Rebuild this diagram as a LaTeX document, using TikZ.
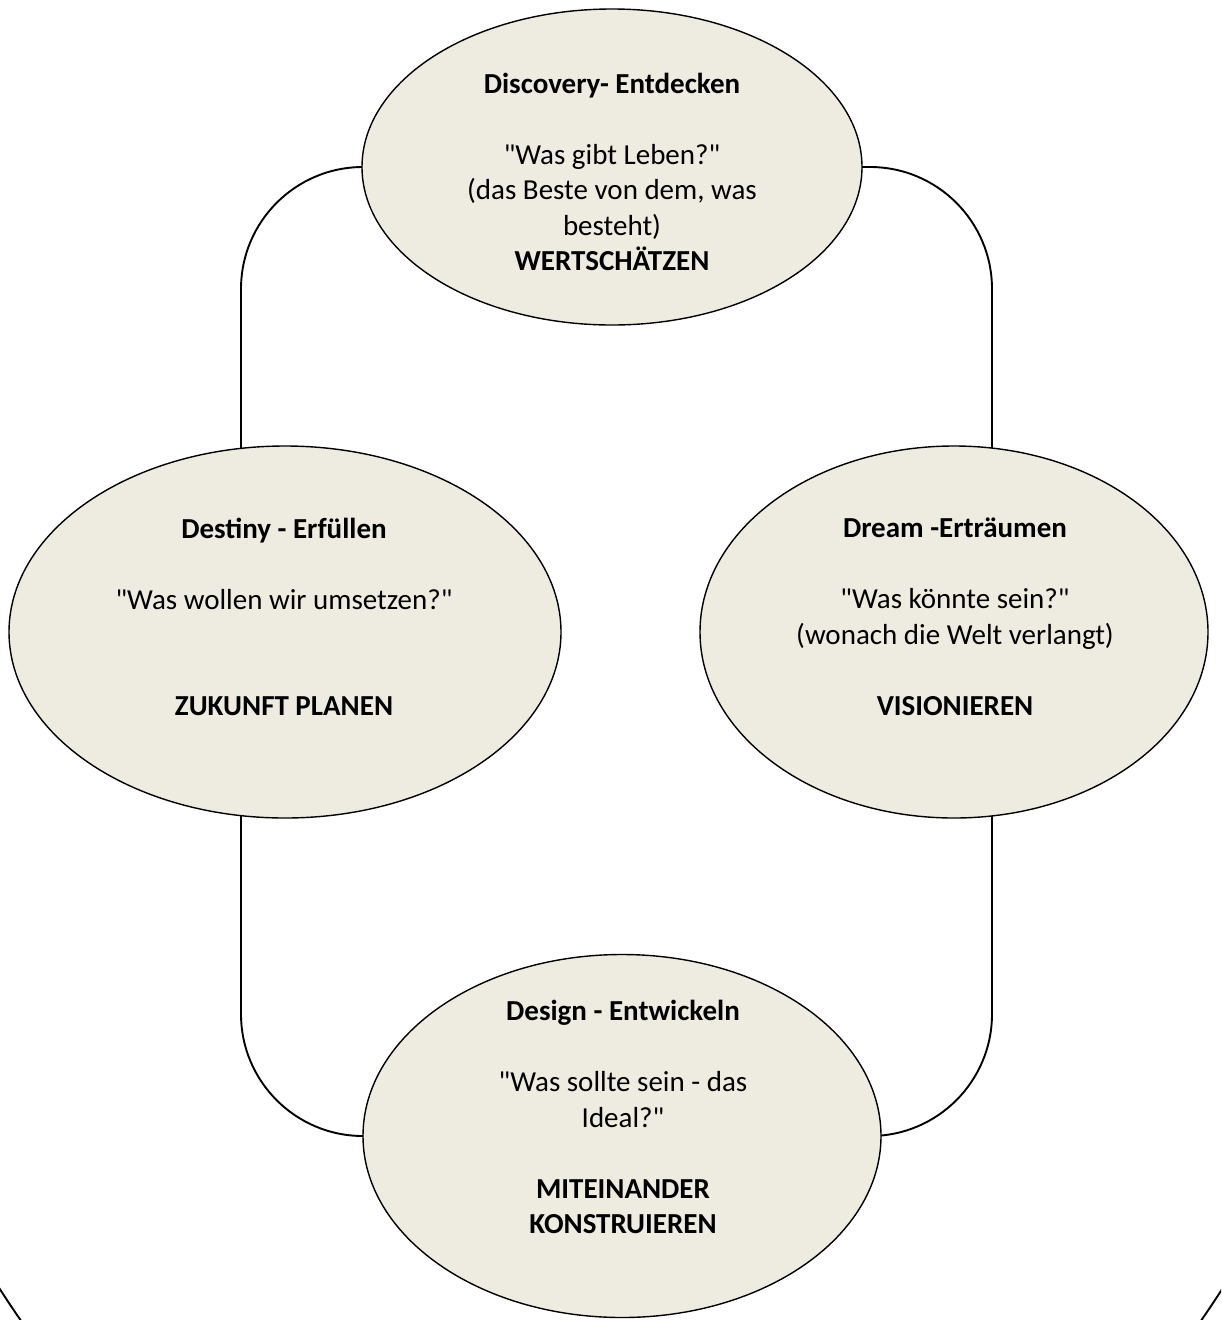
\documentclass[tikz,border=0pt]{standalone}
\usepackage{fontspec}
\setmainfont{Carlito}[Ligatures=TeXOff]
\usetikzlibrary{shapes.geometric}
\definecolor{phasefill}{HTML}{EEECE1}
\pgfdeclarelayer{bg}
\pgfsetlayers{bg,main}
\begin{document}
\begin{tikzpicture}[x=1pt,y=-1pt,
  phase/.style={ellipse, draw=black, line width=1.4pt, fill=phasefill, inner sep=0pt},
  conn/.style={draw=black, line width=1.9pt, rounded corners=122pt},
  txt/.style={align=center, font=\fontsize{29}{35.5}\selectfont, inner sep=0pt, text=black}]
\useasboundingbox (0,0) rectangle (1221,1320);
% phases
\node[phase, minimum width=500pt, minimum height=316pt] (disc) at (612,167) {};
\node[phase, minimum width=552pt, minimum height=372pt] (dest) at (285,632) {};
\node[phase, minimum width=508pt, minimum height=372pt] (dream) at (954,632) {};
\node[phase, minimum width=518pt, minimum height=363pt] (design) at (622,1136) {};
% rails
\coordinate (lrail) at (241,400);
\coordinate (rrail) at (992,400);
\begin{pgfonlayer}{bg}
\fill[white] (0,0) rectangle (1221,1320);
\begin{scope}
\clip (0,0) rectangle (1221,1320);
\draw[line width=1.9pt] (611,600) ellipse [x radius=802pt, y radius=1064pt];
\end{scope}
\draw[conn] (disc.center) -| (lrail |- dest.center);
\draw[conn] (lrail |- dest.center) |- (design.center);
\draw[conn] (disc.center) -| (rrail |- dream.center);
\draw[conn] (rrail |- dream.center) |- (design.center);
\end{pgfonlayer}
% texts
\node[txt] (discT) at (612,172) {\textbf{Discovery- Entdecken}\\[35.5pt] "Was gibt Leben?"\\ (das Beste von dem, was\\ besteht)\\ \textbf{WERTSCHÄTZEN}};
\node[txt] (destT) at (284,617) {\textbf{Destiny - Erfüllen}\\[35.5pt] "Was wollen wir umsetzen?"\\[71pt] \textbf{ZUKUNFT PLANEN}};
\node[txt] (dreamT) at (955,617) {\textbf{Dream -Erträumen}\\[35.5pt] "Was könnte sein?"\\ (wonach die Welt verlangt)\\[35.5pt] \textbf{VISIONIEREN}};
\node[txt] (designT) at (623,1117) {\textbf{Design - Entwickeln}\\[35.5pt] "Was sollte sein - das\\ Ideal?"\\[35.5pt] \textbf{MITEINANDER}\\ \textbf{KONSTRUIEREN}};
\end{tikzpicture}
\end{document}
